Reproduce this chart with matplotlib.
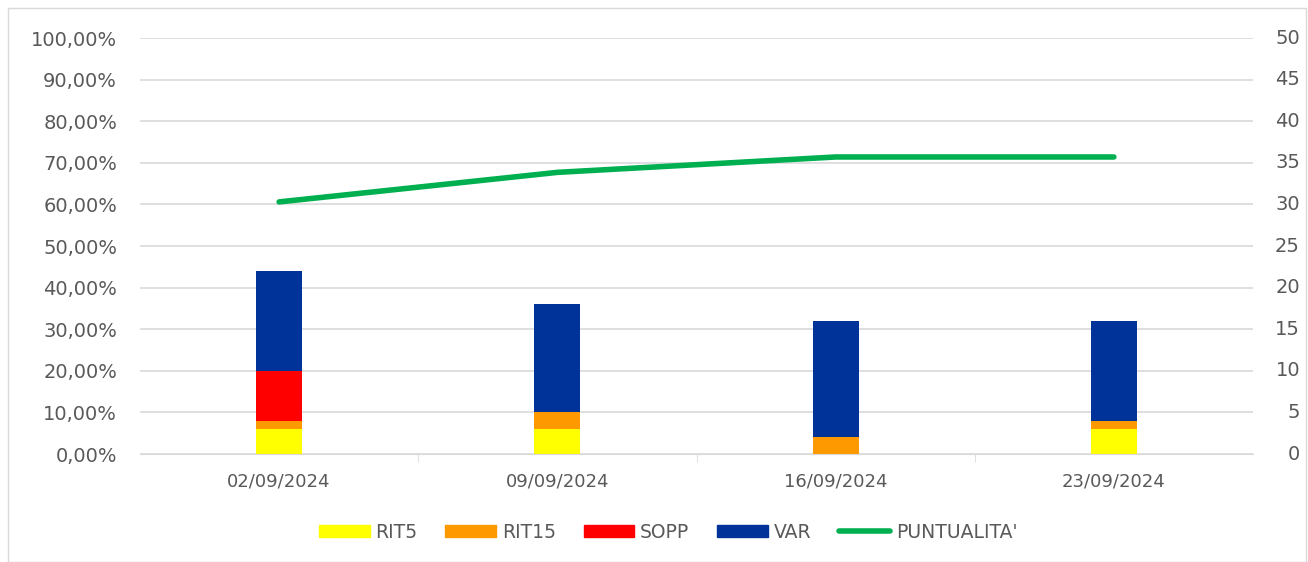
import numpy as np
import matplotlib.pyplot as plt
from matplotlib.patches import Rectangle
from matplotlib.lines import Line2D
from matplotlib.ticker import FuncFormatter
import matplotlib.transforms as mtransforms

# dati
date = ["02/09/2024", "09/09/2024", "16/09/2024", "23/09/2024"]
rit5 = [3, 3, 0, 3]
rit15 = [1, 2, 2, 1]
sopp = [6, 0, 0, 0]
var = [12, 13, 14, 12]
puntualita = [60.6, 67.7, 71.4, 71.4]
tick_dx = np.arange(0, 51, 5)

colori = {"RIT5": "#FFFF00", "RIT15": "#FF9900", "SOPP": "#FF0000", "VAR": "#003399"}
grigio = "#595959"

plt.rcParams['font.family'] = ['DejaVu Sans']

fig = plt.figure(figsize=(13.08, 5.62), dpi=100)
fig.patches.append(Rectangle((8/1308, 0), 1298/1308, 1 - 8/562, transform=fig.transFigure,
                             fill=False, edgecolor="#D9D9D9", linewidth=1))

ax = fig.add_axes([140/1308, 1 - 454/562, 1113/1308, 416/562])
ax2 = ax.twinx()

x = np.arange(len(date))
w = 0.165
bottom = np.zeros(len(date))
for nome, vals in [("RIT5", rit5), ("RIT15", rit15), ("SOPP", sopp), ("VAR", var)]:
    ax2.bar(x, vals, w, bottom=bottom, color=colori[nome], label=nome, zorder=2)
    bottom += np.array(vals)

ax.plot(x, puntualita, color="#00B050", linewidth=4, solid_capstyle="round", zorder=5)

ax.set_ylim(0, 100)
ax.set_yticks(np.arange(0, 101, 10))
ax.yaxis.set_major_formatter(FuncFormatter(lambda v, p: f"{v:.2f}%".replace(".", ",")))
ax2.set_ylim(0, 50)
ax2.set_yticks(tick_dx)
ax2.set_yticklabels([])
ax.set_xlim(-0.5, len(date) - 0.5)
ax.set_xticks(x)
ax.set_xticklabels(date)
ax.set_xticks(np.arange(0.5, len(date) - 0.5, 1), minor=True)

# griglia sull'asse delle barre, sotto le barre
ax2.grid(axis="y", color="#D9D9D9", linewidth=1.2, zorder=0)
ax2.set_axisbelow(True)
ax.set_zorder(ax2.get_zorder() + 1)
ax.patch.set_visible(False)

for a in (ax, ax2):
    for s in a.spines.values():
        s.set_visible(False)
    a.tick_params(axis="y", length=0, labelsize=14, labelcolor=grigio)
ax.spines["bottom"].set_visible(True)
ax.spines["bottom"].set_color("#D9D9D9")
ax.tick_params(axis="y", pad=16.5)
ax.tick_params(axis="x", which="major", length=0, labelsize=13, labelcolor=grigio, pad=13)
ax.tick_params(axis="x", which="minor", length=6, color="#D9D9D9")

# etichette asse destro allineate a destra
trans = mtransforms.blended_transform_factory(fig.transFigure, ax2.transData)
for v in tick_dx:
    ax2.text(1300/1308, v, str(v), transform=trans, ha="right", va="center",
             fontsize=14, color=grigio, clip_on=False)

handles = [Rectangle((0, 0), 1, 1, color=colori[n]) for n in ["RIT5", "RIT15", "SOPP", "VAR"]]
handles.append(Line2D([0], [0], color="#00B050", linewidth=4, solid_capstyle="round"))
fig.legend(handles, ["RIT5", "RIT15", "SOPP", "VAR", "PUNTUALITA'"], loc="center",
           bbox_to_anchor=(668/1308, 1 - 532/562), ncol=5, frameon=False, fontsize=13.5,
           labelcolor=grigio, handlelength=2.7, handleheight=0.64, handletextpad=0.3,
           columnspacing=1.5)

plt.savefig("out.png", dpi=100)
